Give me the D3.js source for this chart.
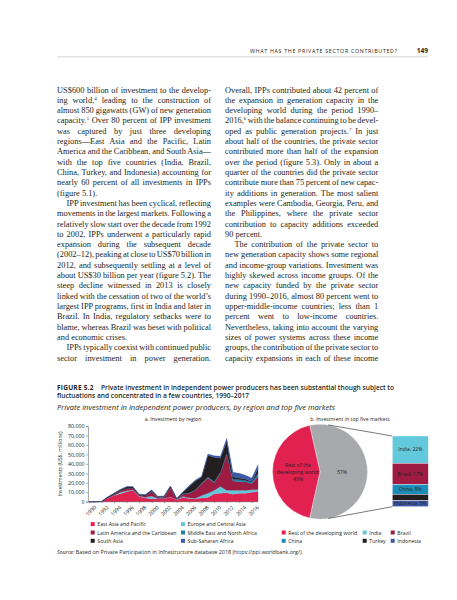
<!DOCTYPE html>
<html>
<head>
<meta charset="UTF-8">
<title>Figure 5.2</title>
<style>
  body { margin: 0; background: #fff; }
  svg { display: block; }
  .body { font-family: "Liberation Serif", serif; font-size: 8.4px; fill: #231f20; }
  .sans { font-family: "Open Sans", sans-serif; fill: #231f20; }
  .axis text { font-family: "Open Sans", sans-serif; font-size: 5.3px; fill: #231f20; }
  .axis path, .axis line { stroke: #555; stroke-width: 0.5; }
</style>
</head>
<body>
<svg width="457" height="600"></svg>
<script src="https://d3js.org/d3.v7.min.js"></script>
<script>
// ---- data (US$ millions) ----
var years = [1990, 1991, 1992, 1993, 1994, 1995, 1996, 1997, 1998, 1999, 2000, 2001, 2002, 2003,
             2004, 2005, 2006, 2007, 2008, 2009, 2010, 2011, 2012, 2013, 2014, 2015, 2016, 2017];
var eastAsiaPacific = [0, 0, 200, 3800, 6500, 8500, 10500, 12000, 5500, 4000, 3000, 3000, 3000, 5000,
                       2000, 4500, 3500, 3000, 4000, 4500, 8500, 9000, 9500, 8000, 9000, 9000, 10000, 11000];
var europeCentralAsia = [0, 0, 0, 200, 300, 1500, 1000, 500, 500, 600, 3000, 500, 300, 300,
                         200, 1000, 800, 700, 2500, 4500, 3500, 7000, 2500, 4000, 3000, 3000, 2500, 2000];
var latinAmerica = [0, 0, 0, 500, 1000, 1500, 2500, 2000, 1000, 1800, 4500, 1000, 1500, 10000,
                    500, 2500, 4700, 8300, 12500, 16000, 8000, 14000, 38000, 10000, 9000, 9000, 6500, 14000];
var middleEastNorthAfrica = [0, 0, 0, 0, 0, 0, 0, 0, 0, 0, 500, 300, 500, 500,
                             300, 300, 500, 500, 800, 1000, 1000, 1000, 1500, 2000, 2500, 1500, 1500, 3000];
var southAsia = [0, 0, 0, 500, 1000, 1200, 1500, 1000, 700, 800, 1000, 500, 500, 500,
                 300, 1700, 6500, 9500, 6200, 23000, 26000, 15000, 12500, 2000, 1500, 1500, 500, 5000];
var subSaharanAfrica = [0, 0, 0, 0, 200, 300, 500, 500, 300, 300, 500, 200, 200, 200,
                        200, 500, 1000, 1000, 1000, 1500, 1500, 2000, 3000, 5000, 5000, 4000, 4000, 4000];

var regions = ["East Asia and Pacific", "Europe and Central Asia", "Latin America and the Caribbean",
               "Middle East and North Africa", "South Asia", "Sub-Saharan Africa"];
var regionColors = ["#e1214f", "#62c8dc", "#9e1c44", "#1d80aa", "#231f20", "#3d5aa7"];

var yTicks = [0, 10000, 20000, 30000, 40000, 50000, 60000, 70000, 80000];
var xTickYears = [1990, 1992, 1994, 1996, 1998, 2000, 2002, 2004, 2006, 2008, 2010, 2012, 2014, 2016];

var pieCategories = ["Top five markets", "Rest of the developing world"];
var pieValues = [57, 43];
var pieColors = ["#a8a9ad", "#e1214f"];

var topFive = ["India", "Brazil", "China", "Turkey", "Indonesia"];
var topFiveValues = [22, 17, 8, 5, 5];
var topFiveColors = ["#62c8dc", "#9e1c44", "#1c8db8", "#231f20", "#3d5aa7"];

// ---- page text: [line, justified, indented] ----
var leftLines = [
  ["US$600 billion of investment to the develop-", 1, 0],
  ["ing world,^4 leading to the construction of", 1, 0],
  ["almost 850 gigawatts (GW) of new generation", 1, 0],
  ["capacity.^5 Over 80 percent of IPP investment", 1, 0],
  ["was captured by just three developing", 1, 0],
  ["regions—East Asia and the Pacific, Latin", 1, 0],
  ["America and the Caribbean, and South Asia—", 1, 0],
  ["with the top five countries (India, Brazil,", 1, 0],
  ["China, Turkey, and Indonesia) accounting for", 1, 0],
  ["nearly 60 percent of all investments in IPPs", 1, 0],
  ["(figure 5.1).", 0, 0],
  ["IPP investment has been cyclical, reflecting", 1, 1],
  ["movements in the largest markets. Following a", 1, 0],
  ["relatively slow start over the decade from 1992", 1, 0],
  ["to 2002, IPPs underwent a particularly rapid", 1, 0],
  ["expansion during the subsequent decade", 1, 0],
  ["(2002–12), peaking at close to US$70 billion in", 1, 0],
  ["2012, and subsequently settling at a level of", 1, 0],
  ["about US$30 billion per year (figure 5.2). The", 1, 0],
  ["steep decline witnessed in 2013 is closely", 1, 0],
  ["linked with the cessation of two of the world’s", 1, 0],
  ["largest IPP programs, first in India and later in", 1, 0],
  ["Brazil. In India, regulatory setbacks were to", 1, 0],
  ["blame, whereas Brazil was beset with political", 1, 0],
  ["and economic crises.", 0, 0],
  ["IPPs typically coexist with continued public", 1, 1],
  ["sector investment in power generation.", 1, 0]
];
var rightLines = [
  ["Overall, IPPs contributed about 42 percent of", 1, 0],
  ["the expansion in generation capacity in the", 1, 0],
  ["developing world during the period 1990–", 1, 0],
  ["2016,^6 with the balance continuing to be devel-", 1, 0],
  ["oped as public generation projects.^7 In just", 1, 0],
  ["about half of the countries, the private sector", 1, 0],
  ["contributed more than half of the expansion", 1, 0],
  ["over the period (figure 5.3). Only in about a", 1, 0],
  ["quarter of the countries did the private sector", 1, 0],
  ["contribute more than 75 percent of new capac-", 1, 0],
  ["ity additions in generation. The most salient", 1, 0],
  ["examples were Cambodia, Georgia, Peru, and", 1, 0],
  ["the Philippines, where the private sector", 1, 0],
  ["contribution to capacity additions exceeded", 1, 0],
  ["90 percent.", 0, 0],
  ["The contribution of the private sector to", 1, 1],
  ["new generation capacity shows some regional", 1, 0],
  ["and income-group variations. Investment was", 1, 0],
  ["highly skewed across income groups. Of the", 1, 0],
  ["new capacity funded by the private sector", 1, 0],
  ["during 1990–2016, almost 80 percent went to", 1, 0],
  ["upper-middle-income countries; less than 1", 1, 0],
  ["percent went to low-income countries.", 1, 0],
  ["Nevertheless, taking into account the varying", 1, 0],
  ["sizes of power systems across these income", 1, 0],
  ["groups, the contribution of the private sector to", 1, 0],
  ["capacity expansions in each of these income", 1, 0]
];

var svg = d3.select("svg");

// running head
svg.append("text").attr("class", "sans").attr("x", 250).attr("y", 52.5)
  .attr("font-size", 5.4).attr("fill", "#444").attr("textLength", 147).attr("lengthAdjust", "spacing")
  .text("WHAT HAS THE PRIVATE SECTOR CONTRIBUTED?");
svg.append("text").attr("class", "sans").attr("x", 428).attr("y", 53).attr("text-anchor", "end")
  .attr("font-size", 6.6).attr("font-weight", 700).text("149");
svg.append("line").attr("x1", 57).attr("x2", 428).attr("y1", 56.8).attr("y2", 56.8)
  .attr("stroke", "#bbb").attr("stroke-width", 0.6);

// body columns, justified by word spacing
function drawColumn(lines, x0, width) {
  lines.forEach(function (l, i) {
    var indent = l[2] ? 9.5 : 0;
    var t = svg.append("text").attr("class", "body")
      .attr("x", x0 + indent).attr("y", 92.5 + i * 10.31);
    var parts = l[0].split(/\^(\d)/);
    var shift = 0;
    parts.forEach(function (p, k) {
      if (k % 2 === 0) {
        if (p) { t.append("tspan").attr("dy", shift).text(p); shift = 0; }
      } else {
        t.append("tspan").attr("font-size", 5).attr("dy", -3).text(p);
        shift = 3;
      }
    });
    if (l[1]) {
      var natural = t.node().getComputedTextLength();
      var spaces = (l[0].match(/ /g) || []).length;
      if (spaces > 0) t.attr("word-spacing", (width - indent - natural) / spaces);
    }
  });
}
drawColumn(leftLines, 57, 154);
drawColumn(rightLines, 225, 153.3);

// figure caption
svg.append("text").attr("class", "sans").attr("x", 57).attr("y", 390).attr("font-size", 6.6)
  .attr("font-weight", 700).attr("fill", "#1e9cc8").attr("textLength", 36.5).attr("lengthAdjust", "spacing")
  .text("FIGURE 5.2");
svg.append("text").attr("class", "sans").attr("x", 101).attr("y", 390).attr("font-size", 6.6)
  .attr("font-weight", 600).attr("textLength", 293).attr("lengthAdjust", "spacingAndGlyphs")
  .text("Private investment in independent power producers has been substantial though subject to");
svg.append("text").attr("class", "sans").attr("x", 57).attr("y", 398.3).attr("font-size", 6.6)
  .attr("font-weight", 600).attr("textLength", 192).attr("lengthAdjust", "spacingAndGlyphs")
  .text("fluctuations and concentrated in a few countries, 1990–2017");
svg.append("text").attr("class", "sans").attr("x", 57).attr("y", 409.5).attr("font-size", 6.6)
  .attr("font-style", "italic").attr("textLength", 278).attr("lengthAdjust", "spacingAndGlyphs")
  .text("Private investment in independent power producers, by region and top five markets");

// panel titles
svg.append("text").attr("class", "sans").attr("x", 173).attr("y", 420.5).attr("text-anchor", "middle")
  .attr("font-size", 5.2).text("a. Investment by region");
svg.append("text").attr("class", "sans").attr("x", 350).attr("y", 420.5).attr("text-anchor", "middle")
  .attr("font-size", 5.2).text("b. Investment in top five markets");

// ---- panel a: stacked area ----
var x = d3.scaleLinear().domain([1990, 2017]).range([89, 258]);
var y = d3.scaleLinear().domain([0, 80000]).range([501.7, 426]);

var table = years.map(function (yr, i) {
  return {
    year: yr,
    "East Asia and Pacific": eastAsiaPacific[i],
    "Europe and Central Asia": europeCentralAsia[i],
    "Latin America and the Caribbean": latinAmerica[i],
    "Middle East and North Africa": middleEastNorthAfrica[i],
    "South Asia": southAsia[i],
    "Sub-Saharan Africa": subSaharanAfrica[i]
  };
});
var series = d3.stack().keys(regions)(table);
var area = d3.area()
  .x(function (d) { return x(d.data.year); })
  .y0(function (d) { return y(d[0]); })
  .y1(function (d) { return y(d[1]); });

svg.append("g").selectAll("path").data(series).enter().append("path")
  .attr("d", area)
  .attr("fill", function (d, i) { return regionColors[i]; })
  .attr("stroke", function (d, i) { return regionColors[i]; })
  .attr("stroke-width", 0.3);

svg.append("g").attr("class", "axis").attr("transform", "translate(88,0)")
  .call(d3.axisLeft(y).tickValues(yTicks).tickSize(2).tickPadding(1.5).tickFormat(d3.format(",")));
var xAxis = svg.append("g").attr("class", "axis").attr("transform", "translate(0,501.7)")
  .call(d3.axisBottom(x).tickValues(xTickYears).tickSize(1.5).tickFormat(d3.format("d")));
xAxis.select(".domain").attr("d", "M88,0H258");
xAxis.selectAll("text").attr("text-anchor", "end")
  .attr("transform", "translate(2,1) rotate(-45)").attr("dy", "0.5em").attr("dx", "0");

svg.append("text").attr("class", "sans").attr("font-size", 5.2)
  .attr("transform", "translate(62,464) rotate(-90)").attr("text-anchor", "middle")
  .text("Investments (US$, millions)");

// ---- panel b: pie + bar ----
var cx = 320, cy = 471.7, r = 47.5;
var start = -12.6 * Math.PI / 180;
var pie = d3.pie().sort(null).startAngle(start).endAngle(start + 2 * Math.PI);
var arc = d3.arc().innerRadius(0).outerRadius(r);
var pg = svg.append("g").attr("transform", "translate(" + cx + "," + cy + ")");
pg.selectAll("path").data(pie(pieValues)).enter().append("path")
  .attr("d", arc).attr("fill", function (d, i) { return pieColors[i]; })
  .attr("stroke", "#fff").attr("stroke-width", 0.4);

var restLines = ["Rest of the", "developing world,", "43%"];
pg.append("text").attr("class", "sans").attr("font-size", 5.2).attr("fill", "#fff")
  .attr("text-anchor", "middle").attr("x", -22).attr("y", -5)
  .selectAll("tspan").data(restLines).enter().append("tspan")
  .attr("x", -22).attr("dy", function (d, i) { return i ? 7 : 0; }).text(function (d) { return d; });
pg.append("text").attr("class", "sans").attr("font-size", 5.2).attr("fill", "#333")
  .attr("text-anchor", "middle").attr("x", 22).attr("y", 2).text(pieValues[0] + "%");

var barX = 392.3, barW = 36;
var bar = d3.scaleLinear().domain([0, d3.sum(topFiveValues)]).range([436, 506.7]);
var cum = d3.cumsum(topFiveValues);
var bg = svg.append("g");
bg.selectAll("rect").data(topFiveValues).enter().append("rect")
  .attr("x", barX).attr("width", barW)
  .attr("y", function (d, i) { return bar(cum[i] - d); })
  .attr("height", function (d) { return bar(d) - bar(0); })
  .attr("fill", function (d, i) { return topFiveColors[i]; })
  .attr("stroke", "#fff").attr("stroke-width", 0.4);
bg.selectAll("text").data(topFiveValues).enter().append("text")
  .attr("class", "sans").attr("font-size", 5)
  .attr("x", barX + barW / 2).attr("text-anchor", "middle")
  .attr("y", function (d, i) { return (bar(cum[i] - d) + bar(cum[i])) / 2 + 1.8; })
  .attr("fill", function (d, i) { return i === 0 ? "#231f20" : "#fff"; })
  .text(function (d, i) { return topFive[i] + ", " + d + "%"; });

// connector lines from pie to bar
var a1 = 10 * Math.PI / 180, a2 = 170 * Math.PI / 180;
svg.append("line").attr("x1", cx + r * Math.sin(a1)).attr("y1", cy - r * Math.cos(a1))
  .attr("x2", barX).attr("y2", 436).attr("stroke", "#231f20").attr("stroke-width", 0.6);
svg.append("line").attr("x1", cx + r * Math.sin(a2)).attr("y1", cy - r * Math.cos(a2))
  .attr("x2", barX).attr("y2", 506.7).attr("stroke", "#231f20").attr("stroke-width", 0.6);

// ---- legends ----
function legendItem(lx, ly, color, label) {
  svg.append("rect").attr("x", lx).attr("y", ly - 2.2).attr("width", 4).attr("height", 4).attr("fill", color);
  svg.append("text").attr("class", "sans").attr("font-size", 5.2).attr("x", lx + 6.6).attr("y", ly + 1.8).text(label);
}
var legendCols = [90.7, 181];
var legendRows = [524.3, 532.7, 541];
// column 1: EAP, LAC, SA ; column 2: ECA, MENA, SSA
[0, 2, 4].forEach(function (k, row) { legendItem(legendCols[0], legendRows[row], regionColors[k], regions[k]); });
[1, 3, 5].forEach(function (k, row) { legendItem(legendCols[1], legendRows[row], regionColors[k], regions[k]); });

legendItem(281.7, 532.7, pieColors[1], pieCategories[1]);
legendItem(362.7, 532.7, topFiveColors[0], topFive[0]);
legendItem(390.7, 532.7, topFiveColors[1], topFive[1]);
legendItem(281.7, 541, topFiveColors[2], topFive[2]);
legendItem(362.7, 541, topFiveColors[3], topFive[3]);
legendItem(390.7, 541, topFiveColors[4], topFive[4]);

// source
var src = svg.append("text").attr("class", "sans").attr("font-size", 5.3).attr("x", 57).attr("y", 553.5)
  .attr("textLength", 246).attr("lengthAdjust", "spacingAndGlyphs");
src.append("tspan").attr("font-style", "italic").text("Source: ");
src.append("tspan").text("Based on Private Participation in Infrastructure database 2018 (https://ppi.worldbank.org/).");
</script>
</body>
</html>
